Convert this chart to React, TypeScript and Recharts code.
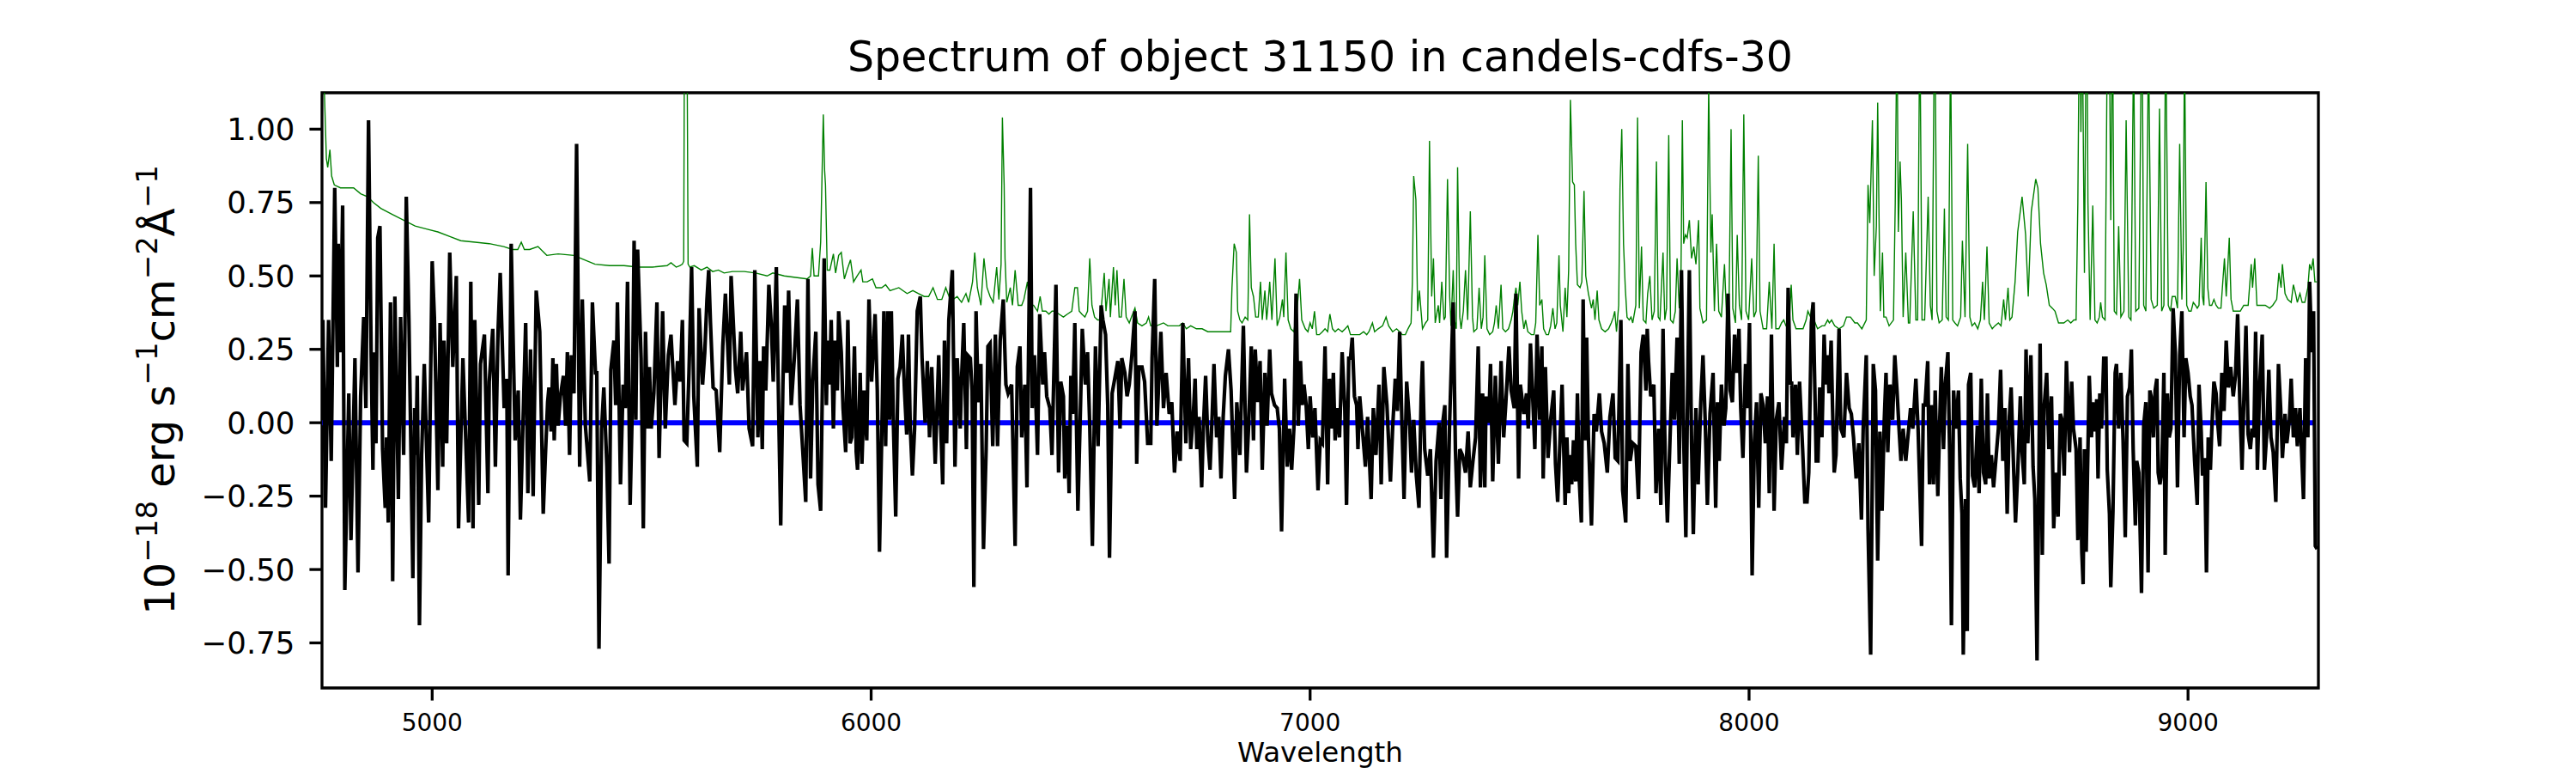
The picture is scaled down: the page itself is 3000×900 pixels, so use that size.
import React from 'react';
import { LineChart, Line, XAxis, YAxis, ReferenceArea } from 'recharts';

// wavelength (Angstrom) and flux of the object
const wavelength = [
  4751, 4757, 4764, 4770, 4778, 4784, 4786, 4791, 4796, 4801, 4810, 4815, 4824, 4831, 4837, 4844, 4849, 4855, 4861, 4865,
  4868, 4872, 4876, 4881, 4887, 4893, 4896, 4900, 4905, 4910, 4915, 4923, 4928, 4935, 4941, 4947, 4956, 4960, 4963, 4966,
  4971, 4976, 4982, 4992, 5000, 5005, 5013, 5018, 5024, 5027, 5033, 5040, 5047, 5055, 5060, 5070, 5083, 5088, 5093, 5097,
  5106, 5110, 5119, 5127, 5130, 5138, 5144, 5150, 5155, 5164, 5170, 5173, 5180, 5189, 5196, 5201, 5213, 5218, 5224, 5230,
  5237, 5245, 5253, 5258, 5263, 5266, 5271, 5275, 5278, 5283, 5287, 5292, 5299, 5304, 5308, 5313, 5317,
  5323, 5329, 5336, 5342, 5349, 5359, 5365, 5372, 5375, 5380, 5386, 5391, 5398, 5403, 5407, 5414, 5418, 5422, 5429, 5435,
  5440, 5445, 5451, 5456, 5460, 5464, 5468, 5476, 5481, 5486, 5491, 5495, 5499, 5505, 5512, 5517, 5525, 5531, 5538, 5544,
  5553, 5559, 5565, 5570, 5574, 5580, 5585, 5591, 5596, 5604, 5608, 5616, 5621, 5626, 5630, 5634, 5640, 5647, 5655, 5662,
  5668, 5677, 5681, 5691, 5696, 5703, 5707, 5716, 5722, 5730, 5735, 5742, 5747, 5752, 5755, 5760, 5767, 5773, 5777, 5784,
  5790, 5794, 5799, 5803, 5808, 5812, 5818, 5825, 5832, 5838, 5844, 5851, 5856, 5862, 5867,
  5874, 5879, 5885, 5893, 5898, 5901, 5905, 5909, 5914, 5918, 5923, 5926, 5932, 5936, 5942, 5947, 5952, 5956, 5962, 5966,
  5969, 5975, 5979, 5984, 5990, 5995, 6001, 6009, 6014, 6019, 6025, 6029, 6033, 6038, 6042, 6046, 6051, 6056, 6061, 6066,
  6071, 6076, 6081, 6085, 6089, 6094, 6099, 6105, 6112, 6116, 6123, 6128, 6133, 6138, 6141, 6146, 6154, 6157, 6163, 6167,
  6172, 6177, 6185, 6191, 6196, 6203, 6206, 6211, 6217, 6220, 6226, 6230, 6234, 6239, 6244, 6250, 6256, 6262, 6266, 6271,
  6277, 6283, 6288, 6294, 6301, 6307, 6312, 6320, 6328, 6333, 6339, 6343, 6350, 6355, 6363, 6367, 6372, 6379, 6384, 6391,
  6395, 6400, 6407, 6412, 6421, 6427, 6432, 6438, 6441, 6447,
  6451, 6455, 6459, 6464, 6471, 6477, 6481, 6488, 6493, 6498, 6504, 6511, 6517, 6524, 6528, 6534, 6539, 6543, 6549, 6555,
  6562, 6567, 6571, 6578, 6583, 6588, 6594, 6601, 6605, 6610, 6617, 6623, 6630, 6637, 6640, 6646, 6651, 6660, 6666, 6672,
  6679, 6685, 6691, 6697, 6704, 6710, 6717, 6723, 6728, 6734, 6738, 6742, 6747, 6753, 6757, 6762, 6767, 6772, 6777, 6781,
  6787, 6792, 6797, 6802, 6807, 6814, 6820, 6828, 6833, 6840, 6848, 6855, 6860, 6866, 6871, 6875, 6881, 6886, 6891, 6897,
  6902, 6908, 6912, 6919, 6925, 6930, 6935, 6942, 6948, 6953, 6958, 6963, 6968, 6973, 6978, 6982, 6986, 6991, 6996, 7000,
  7006, 7011,
  7018, 7023, 7028, 7034, 7040, 7044, 7049, 7053, 7057, 7062, 7067, 7073, 7079, 7083, 7088, 7092, 7096, 7101, 7106, 7109,
  7113, 7119, 7126, 7131, 7139, 7144, 7150, 7157, 7162, 7168, 7175, 7183, 7188, 7194, 7199, 7204, 7209, 7214, 7220, 7227,
  7231, 7236, 7242, 7248, 7253, 7256, 7261, 7268, 7274, 7281, 7287, 7294, 7298, 7303, 7307, 7311, 7318, 7326, 7331, 7336,
  7341, 7347, 7354, 7360, 7365, 7371, 7377, 7383, 7388, 7393, 7398, 7401, 7407, 7411, 7416, 7422, 7429, 7435, 7441, 7446,
  7453, 7458, 7465, 7469, 7475, 7479, 7487, 7493, 7497, 7502, 7507, 7512, 7517, 7523, 7528, 7531, 7536, 7542, 7548, 7555,
  7559, 7564, 7569, 7574,
  7581, 7585, 7589, 7592, 7596, 7600, 7605, 7609, 7613, 7618, 7622, 7626, 7630, 7634, 7641, 7647, 7652, 7659, 7664, 7670,
  7677, 7683, 7690, 7695, 7701, 7708, 7712, 7719, 7724, 7729, 7735, 7742, 7748, 7754, 7759, 7765, 7768, 7771, 7776, 7783,
  7788, 7794, 7799, 7804, 7809, 7814, 7820, 7825, 7830, 7836, 7841, 7846, 7851, 7856, 7860, 7864, 7869, 7873, 7879, 7884,
  7890, 7895, 7900, 7905, 7911, 7918, 7924, 7928, 7932, 7937, 7943, 7947, 7952, 7957, 7962, 7967, 7972, 7977, 7981, 7986,
  7992, 7996, 8001, 8007, 8012, 8017, 8022, 8027, 8032, 8037, 8042, 8046, 8051, 8057, 8062, 8068, 8074, 8081, 8085, 8089,
  8094, 8097, 8100, 8106, 8110, 8115, 8122, 8127, 8132, 8136, 8142, 8146,
  8153, 8157, 8161, 8166, 8171, 8175, 8179, 8182, 8187, 8190, 8194, 8198, 8205, 8209, 8216, 8222, 8228, 8233, 8238, 8244,
  8250, 8256, 8260, 8267, 8271, 8277, 8283, 8288, 8293, 8298, 8303, 8308, 8312, 8316, 8321, 8327, 8332, 8337, 8342, 8346,
  8351, 8357, 8363, 8368, 8373, 8380, 8385, 8393, 8397, 8401, 8407, 8411, 8415, 8420, 8424, 8430, 8434, 8438, 8443, 8447,
  8453, 8457, 8461, 8466, 8471, 8477, 8481, 8485, 8488, 8493, 8497, 8500, 8505, 8509, 8514, 8520, 8524, 8529, 8534, 8539,
  8543, 8547, 8552, 8557, 8562, 8568, 8573, 8578, 8583, 8588, 8593, 8597, 8603, 8607, 8612, 8618, 8622, 8627, 8631, 8635,
  8642, 8647, 8651, 8656, 8663, 8668, 8672, 8678, 8683, 8689, 8694, 8699, 8704, 8709, 8713, 8718, 8723,
  8730, 8735, 8739, 8745, 8749, 8754, 8758, 8761, 8764, 8768, 8771, 8775, 8780, 8783, 8787, 8792, 8795, 8799, 8803, 8808,
  8813, 8816, 8821, 8824, 8829, 8834, 8837, 8842, 8847, 8852, 8857, 8862, 8867, 8871, 8875, 8880, 8883, 8888, 8894, 8899,
  8904, 8909, 8913, 8916, 8921, 8925, 8929, 8932, 8936, 8940, 8945, 8948, 8953, 8957, 8961, 8966, 8971, 8976, 8981, 8986,
  8991, 8995, 9000, 9005, 9009, 9015, 9021, 9025, 9030, 9033, 9038, 9042, 9046, 9051, 9054, 9059, 9064, 9067, 9072, 9077,
  9082, 9087, 9092, 9097, 9103, 9108, 9113, 9118, 9123, 9127, 9132, 9137, 9142, 9146, 9150, 9154, 9158, 9163, 9169, 9174,
  9180, 9184, 9189, 9194, 9200, 9206, 9211, 9215, 9221, 9225, 9231, 9235, 9240, 9245, 9249, 9255, 9259, 9263, 9268, 9273,
  9277, 9282, 9286, 9290, 9294,
];

const flux = [
  0.35, -0.29, 0.35, -0.13, 0.8, 0.19, 0.61, 0.24, 0.74, -0.57, 0.1, -0.4, 0.22, -0.51, 0.09, 0.36, 0.05, 1.03, 0.23, -0.16,
  0.24, -0.07, 0.63, 0.67, -0.09, -0.29, -0.05, -0.34, 0.41, -0.54, 0.43, -0.26, 0.36, -0.11, 0.77, 0.35, -0.53, 0.05, -0.11, 0.16,
  -0.69, -0.11, 0.2, -0.34, 0.55, 0.36, -0.23, 0.34, -0.15, 0.28, -0.07, 0.58, 0.19, 0.5, -0.36, 0.22, -0.34, 0.48, -0.36, 0.35,
  -0.28, 0.2, 0.3, -0.24, 0.14, 0.32, -0.15, 0.31, 0.51, 0.05, 0.15, -0.52, 0.61, -0.06, 0.11, -0.33, 0.34, -0.24, 0.25, -0.25,
  0.45, 0.31, -0.31, -0.11, 0.07, 0.12, -0.03, 0.22, -0.06, 0.2, -0.01, 0.09, 0.16, -0.01, 0.24, -0.11, 0.23,
  0.1, 0.95, -0.15, 0.42, -0.01, -0.2, 0.41, 0.17, 0.17, -0.77, -0.02, 0.12, -0.15, -0.48, 0.18, 0.28, 0.06, 0.41, -0.21, 0.13,
  0.05, 0.48, -0.28, 0.06, 0.62, 0.01, 0.59, 0.22, -0.36, 0.31, -0.02, 0.19, -0.02, 0.1, 0.41, -0.12, 0.38, -0.02, 0.23, 0.3,
  0.06, 0.21, 0.14, 0.35, -0.06, -0.07, 0.17, 0.53, 0.09, -0.15, 0.39, 0.13, 0.24, 0.42, 0.52, 0.34, 0.12, 0.11, -0.1, 0.26,
  0.44, 0.13, 0.5, 0.18, 0.1, 0.31, 0.11, 0.24, -0.02, -0.08, 0.52, -0.05, 0.21, -0.09, 0.26, 0.11, 0.47, 0.32, 0.14, 0.53,
  -0.01, -0.35, 0.13, 0.4, 0.17, 0.45, 0.06, 0.22, 0.42, 0.06, -0.09, -0.27, 0.49, -0.19, 0.14,
  0.31, -0.21, -0.3, 0.56, 0.06, 0.28, 0.13, 0.35, -0.02, 0.28, 0.11, 0.38, 0.24, 0.05, -0.1, 0.35, -0.07, -0.05, 0.26, -0.1,
  -0.16, 0.17, -0.14, 0.11, -0.06, 0.42, 0.14, 0.37, 0.11, -0.44, 0.02, 0.38, -0.08, 0.38, 0.01, 0.38, -0.02, -0.32, 0.15, 0.19,
  0.3, 0.11, -0.04, 0.3, -0.01, -0.18, -0.02, 0.38, 0.43, 0.22, 0.0, 0.21, -0.05, 0.19, 0.06, -0.14, 0.23, 0.06, -0.21, 0.28,
  -0.07, 0.35, 0.52, -0.15, 0.22, -0.02, 0.15, 0.34, -0.09, 0.23, 0.22, 0.11, -0.56, 0.38, 0.07, 0.2, -0.43, -0.09, 0.26, 0.27,
  -0.08, 0.3, -0.08, 0.28, 0.42, 0.13, 0.1, 0.13, -0.42, 0.19, 0.26, -0.05, 0.13, -0.22, 0.8, 0.05, 0.23, -0.11, 0.37, 0.13,
  0.24, 0.09, 0.05, -0.11, 0.47, -0.17, 0.14, 0.09, -0.19, -0.01,
  -0.24, 0.16, 0.03, 0.34, -0.3, 0.06, 0.32, 0.13, 0.24, -0.01, -0.42, 0.26, -0.08, 0.4, 0.35, 0.3, 0.06, -0.46, 0.1, 0.15,
  0.21, -0.02, 0.22, 0.17, 0.09, 0.13, 0.23, 0.38, -0.14, 0.19, 0.19, 0.14, -0.07, -0.07, 0.22, 0.49, -0.01, 0.31, 0.05, 0.17,
  0.03, 0.07, -0.17, -0.03, -0.13, 0.34, -0.07, 0.22, -0.09, 0.03, 0.15, -0.09, 0.02, -0.22, -0.01, 0.16, -0.06, -0.16, 0.03, 0.2,
  -0.05, 0.02, -0.19, 0.02, 0.16, 0.25, 0.11, -0.26, 0.07, -0.11, 0.33, -0.17, -0.01, 0.26, -0.06, 0.25, 0.07, 0.21, -0.16, 0.17,
  -0.01, 0.25, 0.1, 0.06, 0.05, -0.02, -0.37, 0.15, -0.15, -0.02, -0.16, -0.02, 0.44, -0.01, 0.21, 0.06, 0.13, 0.06, -0.09, 0.09,
  -0.05, 0.05,
  -0.23, -0.06, -0.07, 0.26, -0.21, 0.15, -0.02, 0.17, -0.06, 0.05, -0.05, 0.24, 0.05, -0.28, 0.22, 0.22, 0.29, 0.09, 0.06, -0.09,
  0.09, -0.02, -0.15, 0.02, -0.26, 0.05, -0.11, 0.13, -0.21, 0.19, 0.06, -0.2, -0.02, 0.15, 0.04, 0.31, 0.01, -0.26, 0.14, -0.01,
  -0.17, 0.01, -0.18, -0.29, 0.09, 0.21, -0.09, -0.18, -0.09, -0.46, -0.13, 0.0, -0.26, 0.01, 0.06, -0.46, 0.01, 0.41, -0.09, -0.32,
  -0.09, -0.11, -0.17, -0.03, -0.22, -0.13, -0.05, 0.26, -0.22, 0.1, -0.22, 0.09, 0.0, 0.2, -0.2, 0.16, -0.14, 0.21, -0.05, 0.07,
  0.26, 0.11, 0.05, 0.44, -0.19, 0.13, 0.03, 0.1, -0.02, 0.27, 0.09, -0.09, 0.3, 0.01, 0.26, -0.19, 0.19, -0.12, 0.01, 0.11,
  -0.14, -0.27, -0.07, 0.13,
  -0.28, -0.05, -0.24, -0.11, -0.21, -0.06, -0.2, 0.1, -0.19, -0.34, 0.42, -0.06, 0.29, -0.05, -0.35, 0.03, -0.03, 0.1, -0.03, -0.07,
  -0.17, 0.02, 0.1, -0.12, -0.13, 0.35, -0.23, -0.34, 0.2, -0.13, -0.07, -0.08, -0.26, 0.24, 0.3, 0.11, 0.32, 0.21, 0.09, 0.13,
  -0.24, -0.02, -0.28, 0.32, -0.13, -0.34, -0.05, 0.17, 0.01, 0.29, -0.14, 0.52, -0.05, -0.39, 0.11, 0.52, -0.07, -0.38, 0.05, -0.21,
  0.07, 0.23, 0.01, -0.28, 0.03, 0.17, -0.29, 0.07, -0.13, 0.13, -0.01, 0.05, 0.44, 0.11, 0.07, 0.3, 0.17, 0.32, 0.05, -0.12,
  0.2, 0.05, 0.34, -0.52, -0.07, 0.07, -0.29, 0.1, 0.06, -0.07, 0.09, -0.24, 0.3, -0.3, 0.01, 0.07, -0.16, 0.02, -0.07, 0.46,
  0.13, 0.14, -0.05, 0.13, -0.11, 0.14, -0.09, -0.27, -0.27, -0.17, 0.34, 0.41,
  -0.13, -0.13, 0.12, -0.05, 0.3, 0.13, 0.23, 0.1, 0.28, 0.06, -0.17, -0.11, 0.32, -0.02, -0.05, 0.17, 0.05, 0.03, -0.05, -0.19,
  -0.07, -0.33, -0.02, 0.23, -0.36, -0.79, 0.2, 0.11, -0.47, -0.03, -0.3, 0.01, 0.17, -0.1, 0.13, 0.01, 0.23, 0.11, -0.03, -0.13,
  -0.02, -0.13, -0.03, 0.05, -0.02, 0.15, -0.02, -0.42, 0.06, 0.06, 0.21, -0.21, 0.06, -0.21, 0.11, -0.25, -0.01, 0.19, -0.09, 0.13,
  0.24, -0.11, -0.69, 0.11, -0.02, 0.11, -0.19, -0.31, -0.79, -0.26, -0.71, 0.13, 0.17, -0.18, -0.22, -0.01, -0.24, 0.15, -0.17, -0.21,
  0.1, -0.19, -0.11, -0.22, -0.13, -0.02, 0.18, -0.13, 0.05, -0.31, 0.02, 0.12, -0.17, -0.34, -0.17, 0.09, -0.1, -0.21, 0.25, -0.07,
  0.23, -0.15, -0.26, -0.81, 0.27, -0.45, 0.05, 0.17, -0.09, 0.09, -0.36, -0.17, -0.32, 0.03, 0.01, -0.18, 0.21,
  -0.1, 0.14, -0.02, -0.09, -0.4, -0.05, -0.44, -0.55, -0.09, -0.44, -0.17, 0.16, -0.05, 0.07, -0.03, 0.08, -0.19, 0.1, -0.02, 0.22,
  0.22, -0.16, -0.31, -0.56, -0.3, 0.17, 0.2, -0.02, 0.17, -0.06, -0.39, 0.09, 0.12, 0.25, -0.09, -0.35, -0.13, -0.17, -0.58, -0.01,
  0.07, -0.51, 0.11, 0.09, -0.05, 0.11, 0.15, -0.17, -0.21, -0.17, 0.17, -0.45, 0.1, -0.05, -0.02, 0.39, 0.24, -0.22, 0.23, 0.38,
  -0.05, 0.22, 0.17, 0.09, 0.06, -0.13, -0.28, 0.13, -0.03, -0.18, -0.12, -0.51, -0.05, -0.16, -0.03, 0.14, 0.1, 0.01, -0.08, 0.17,
  0.04, 0.28, 0.12, 0.19, 0.09, 0.16, 0.37, 0.07, -0.16, 0.07, 0.33, -0.04, -0.09, -0.02, -0.05, 0.31, -0.16, 0.12, 0.3, -0.16,
  -0.02, 0.18, -0.05, -0.1, -0.27, 0.2, 0.05, -0.12, 0.03, -0.07, 0.01, 0.15, -0.05, 0.05, -0.08, 0.05, -0.11, -0.26, 0.22, -0.05,
  0.48, 0.24, 0.38, -0.42, -0.43,
];

// green error / sky spectrum
const errWavelength = [
  4751, 4759, 4762, 4767, 4771, 4777, 4791, 4804, 4821, 4837, 4853, 4866, 4883, 4909, 4935, 4961, 4987, 5013, 5039, 5065,
  5098, 5130, 5163, 5183, 5195, 5203, 5210, 5222, 5241, 5261, 5287, 5323,
  5339, 5371, 5404, 5437, 5469, 5502, 5535, 5544, 5556, 5564, 5570, 5573, 5575, 5580, 5583, 5587, 5597, 5613, 5626, 5639,
  5652, 5665, 5684, 5711, 5737, 5763, 5776, 5802, 5828, 5854, 5862, 5866, 5870, 5880,
  5885, 5891, 5894, 5896, 5900, 5906, 5914, 5919, 5926, 5932, 5939, 5945, 5953, 5960, 5968, 5977, 5981, 5991, 6003, 6011,
  6024, 6033, 6043, 6063, 6082, 6095, 6108, 6121, 6131, 6141, 6151, 6161, 6170, 6180, 6187, 6196, 6206, 6216, 6222, 6231,
  6236, 6242, 6250, 6257, 6264, 6271, 6278, 6286, 6291, 6296, 6299, 6303, 6305, 6309, 6317, 6322, 6328, 6335, 6343, 6348,
  6356, 6363, 6370, 6379, 6385, 6390, 6398, 6405, 6412, 6418, 6428, 6438, 6447, 6457,
  6464, 6470, 6474, 6480, 6487, 6493, 6498, 6503, 6509, 6516, 6522, 6531, 6535, 6542, 6545, 6552, 6556, 6560, 6565, 6570,
  6576, 6581, 6588, 6593, 6601, 6607, 6617, 6627, 6632, 6637, 6650, 6666, 6676, 6689, 6702, 6710, 6718, 6728, 6741, 6754,
  6767, 6783, 6796, 6809, 6819, 6822, 6827, 6832, 6835, 6840, 6845, 6852, 6858, 6862, 6866, 6871, 6876, 6882, 6887, 6891,
  6897, 6901, 6904, 6908, 6913, 6920, 6925, 6931, 6937, 6940, 6945, 6950, 6956, 6963, 6970, 6976, 6981, 6989, 6995, 7000,
  7005, 7010, 7015, 7021, 7028,
  7034, 7040, 7045, 7051, 7057, 7064, 7073, 7080, 7086, 7092, 7100, 7113, 7122, 7129, 7134, 7142, 7147, 7155, 7165, 7173,
  7179, 7188, 7197, 7204, 7210, 7217, 7223, 7230, 7233, 7236, 7241, 7245, 7249, 7256, 7263, 7268, 7272, 7277, 7281, 7285,
  7292, 7295, 7300, 7305, 7308, 7313, 7318, 7321, 7326, 7329, 7333, 7336, 7341, 7344, 7349, 7354, 7359, 7365, 7370, 7373,
  7380, 7385, 7390, 7394, 7398, 7403, 7409, 7416, 7420, 7424, 7429, 7435, 7439, 7445, 7452, 7458, 7462, 7465, 7469, 7473,
  7478, 7482, 7487, 7491, 7496, 7504, 7510, 7514, 7519, 7523, 7528, 7532, 7538, 7543, 7548, 7553, 7558, 7562, 7567, 7570,
  7576, 7581, 7585, 7589, 7593, 7598, 7602,
  7605, 7609, 7615, 7619, 7624, 7628, 7634, 7641, 7645, 7649, 7654, 7658, 7664, 7672, 7680, 7686, 7691, 7694, 7698, 7703,
  7706, 7710, 7714, 7718, 7722, 7727, 7731, 7735, 7742, 7746, 7750, 7755, 7759, 7765, 7769, 7774, 7779, 7784, 7789, 7793,
  7797, 7804, 7808, 7812, 7817, 7821, 7827, 7832, 7836, 7841, 7845, 7848, 7851, 7855, 7859, 7864, 7869, 7874, 7879, 7885,
  7888, 7895, 7903, 7908, 7913, 7916, 7921, 7926, 7931, 7937, 7944, 7949, 7954, 7959, 7963, 7969, 7973, 7978, 7983, 7988,
  7993, 7999, 8006, 8011, 8016, 8021, 8025, 8032, 8040, 8046, 8052, 8057, 8061, 8068, 8074, 8079, 8084, 8091, 8096, 8100,
  8107, 8113, 8123, 8130, 8134, 8140, 8143, 8148,
  8156, 8166, 8172, 8179, 8183, 8188, 8195, 8205, 8215, 8222, 8231, 8241, 8247, 8257, 8267, 8271, 8275, 8281, 8285, 8290,
  8293, 8297, 8299, 8304, 8307, 8312, 8319, 8329, 8333, 8337, 8340, 8344, 8347, 8351, 8357, 8363, 8366, 8374, 8380, 8384,
  8389, 8394, 8400, 8408, 8413, 8417, 8423, 8428, 8433, 8440, 8445, 8449, 8454, 8459, 8464, 8469, 8475, 8482, 8486, 8492,
  8498, 8503, 8508, 8514, 8521, 8527, 8532, 8536, 8542, 8547, 8554, 8560, 8568, 8574, 8580, 8584, 8590, 8594, 8599, 8606,
  8612, 8622, 8630, 8636, 8643, 8653, 8658, 8664, 8671, 8677, 8684, 8691, 8697, 8705, 8717,
  8726, 8733, 8740, 8745, 8749, 8753, 8756, 8759, 8764, 8769, 8772, 8777, 8783, 8788, 8793, 8798, 8801, 8805, 8811, 8816,
  8821, 8824, 8828, 8832, 8837, 8842, 8847, 8854, 8859, 8865, 8870, 8876, 8881, 8888, 8895, 8899, 8904, 8910, 8916, 8922,
  8930, 8935, 8940, 8945, 8949, 8955, 8960, 8964, 8971, 8976, 8981, 8986, 8989, 8992, 8997, 9002, 9007, 9012, 9017, 9021,
  9025, 9030, 9033, 9036, 9041, 9045, 9049, 9054, 9059, 9064, 9069, 9075, 9083, 9087, 9094, 9098, 9103, 9111, 9119, 9127,
  9137, 9144, 9147, 9152, 9157, 9163, 9176, 9186, 9193, 9202, 9207, 9212, 9215, 9221, 9227, 9235, 9240, 9245, 9249, 9255,
  9260, 9266, 9273, 9277, 9281, 9285, 9289, 9294,
];

const errFlux = [
  1.3, 0.9, 0.87, 0.93, 0.84, 0.81, 0.8, 0.8, 0.8, 0.78, 0.77, 0.75, 0.73, 0.71, 0.69, 0.67, 0.66, 0.65, 0.635, 0.62,
  0.615, 0.61, 0.6, 0.59, 0.59, 0.615, 0.59, 0.59, 0.6, 0.57, 0.575, 0.57,
  0.56, 0.54, 0.535, 0.535, 0.53, 0.53, 0.535, 0.545, 0.53, 0.535, 0.54, 0.55, 1.5, 1.5, 0.54, 0.53, 0.535, 0.52, 0.53, 0.515,
  0.52, 0.51, 0.515, 0.515, 0.51, 0.5, 0.51, 0.5, 0.495, 0.49, 0.5, 0.595, 0.5, 0.5,
  0.615, 1.05, 0.86, 0.81, 0.52, 0.52, 0.575, 0.51, 0.57, 0.58, 0.49, 0.52, 0.555, 0.48, 0.5, 0.52, 0.48, 0.48, 0.49, 0.46,
  0.46, 0.47, 0.45, 0.46, 0.44, 0.45, 0.44, 0.43, 0.43, 0.46, 0.42, 0.42, 0.46, 0.42, 0.42, 0.43, 0.41, 0.44, 0.41, 0.48,
  0.58, 0.46, 0.4, 0.56, 0.46, 0.43, 0.41, 0.53, 0.42, 0.54, 1.04, 0.81, 0.56, 0.41, 0.46, 0.4, 0.52, 0.4, 0.4, 0.42,
  0.48, 0.4, 0.4, 0.38, 0.43, 0.38, 0.38, 0.37, 0.38, 0.38, 0.37, 0.36, 0.37, 0.38,
  0.46, 0.46, 0.38, 0.37, 0.36, 0.38, 0.56, 0.4, 0.36, 0.35, 0.35, 0.51, 0.38, 0.49, 0.36, 0.53, 0.4, 0.52, 0.36, 0.36,
  0.49, 0.36, 0.34, 0.36, 0.39, 0.34, 0.33, 0.34, 0.36, 0.33, 0.33, 0.34, 0.33, 0.33, 0.33, 0.34, 0.32, 0.33, 0.32, 0.32,
  0.31, 0.31, 0.31, 0.31, 0.31, 0.46, 0.61, 0.58, 0.38, 0.35, 0.34, 0.36, 0.35, 0.71, 0.46, 0.43, 0.36, 0.36, 0.48, 0.35,
  0.45, 0.35, 0.4, 0.48, 0.35, 0.56, 0.33, 0.36, 0.42, 0.36, 0.58, 0.35, 0.32, 0.31, 0.38, 0.49, 0.35, 0.32, 0.31, 0.34,
  0.32, 0.38, 0.3, 0.3, 0.31,
  0.32, 0.31, 0.37, 0.32, 0.31, 0.32, 0.31, 0.32, 0.33, 0.3, 0.3, 0.3, 0.31, 0.3, 0.31, 0.34, 0.31, 0.32, 0.33, 0.36,
  0.33, 0.31, 0.32, 0.31, 0.3, 0.3, 0.32, 0.34, 0.48, 0.84, 0.76, 0.38, 0.45, 0.32, 0.34, 0.35, 0.96, 0.43, 0.56, 0.34,
  0.4, 0.34, 0.48, 0.35, 0.36, 0.83, 0.43, 0.33, 0.52, 0.35, 0.32, 0.87, 0.36, 0.32, 0.38, 0.52, 0.35, 0.72, 0.36, 0.31,
  0.32, 0.46, 0.32, 0.36, 0.57, 0.32, 0.3, 0.31, 0.34, 0.4, 0.32, 0.47, 0.32, 0.31, 0.32, 0.35, 0.38, 0.42, 0.46, 0.4,
  0.48, 0.38, 0.32, 0.35, 0.31, 0.3, 0.3, 0.34, 0.64, 0.4, 0.42, 0.32, 0.3, 0.3, 0.33, 0.39, 0.32, 0.34, 0.57, 0.4,
  0.31, 0.46, 0.36, 0.52, 1.1, 0.82, 0.81,
  0.61, 0.47, 0.46, 0.48, 0.79, 0.5, 0.44, 0.39, 0.42, 0.35, 0.45, 0.35, 0.32, 0.31, 0.32, 0.34, 0.36, 0.38, 0.31, 0.4,
  0.8, 1.0, 0.61, 0.46, 0.36, 0.35, 0.36, 0.34, 0.4, 1.04, 0.39, 0.6, 0.35, 0.34, 0.44, 0.5, 0.35, 0.38, 0.89, 0.36,
  0.35, 0.58, 0.35, 0.39, 0.98, 0.35, 0.34, 0.38, 0.56, 0.39, 0.52, 1.03, 0.61, 0.64, 0.63, 0.69, 0.56, 0.6, 0.54, 0.69,
  0.39, 0.34, 0.35, 1.15, 0.58, 0.71, 0.38, 0.61, 0.38, 0.36, 0.54, 0.35, 0.36, 1.0, 0.39, 0.34, 0.64, 0.4, 0.35, 1.05,
  0.38, 0.35, 0.56, 0.36, 0.38, 0.91, 0.38, 0.32, 0.32, 0.48, 0.32, 0.61, 0.32, 0.32, 0.34, 0.35, 0.33, 0.32, 0.47, 0.35,
  0.32, 0.32, 0.32, 0.35, 0.38, 0.36, 0.4, 0.35,
  0.32, 0.33, 0.33, 0.35, 0.34, 0.35, 0.33, 0.32, 0.33, 0.36, 0.36, 0.34, 0.34, 0.32, 0.35, 0.81, 0.68, 1.03, 0.5, 0.67,
  1.09, 0.59, 0.38, 0.58, 0.36, 0.36, 0.33, 0.35, 0.75, 1.4, 0.65, 0.89, 0.76, 0.36, 0.58, 0.34, 0.34, 0.72, 0.35, 0.35,
  1.4, 0.35, 0.35, 0.77, 0.4, 0.35, 1.5, 0.38, 0.34, 0.35, 0.73, 0.36, 0.35, 1.3, 0.35, 0.34, 0.33, 0.36, 0.62, 0.36,
  0.95, 0.36, 0.33, 0.34, 0.32, 0.35, 0.48, 0.35, 0.6, 0.34, 0.32, 0.33, 0.34, 0.33, 0.42, 0.35, 0.46, 0.35, 0.36, 0.48,
  0.65, 0.77, 0.64, 0.43, 0.72, 0.83, 0.8, 0.61, 0.51, 0.47, 0.4, 0.39, 0.38, 0.34, 0.34,
  0.35, 0.34, 0.35, 0.35, 0.75, 1.5, 0.99, 1.4, 0.51, 1.6, 0.75, 0.35, 0.74, 0.35, 0.34, 0.36, 0.41, 0.36, 0.35, 1.3,
  1.3, 0.69, 1.4, 0.38, 0.37, 0.67, 0.36, 0.38, 1.03, 0.36, 0.35, 1.3, 0.38, 0.39, 1.5, 0.4, 0.38, 1.3, 0.42, 0.39,
  0.4, 1.07, 0.38, 0.4, 1.4, 0.4, 0.38, 0.43, 0.43, 0.39, 0.95, 0.42, 0.59, 1.3, 0.4, 0.38, 0.38, 0.41, 0.4, 0.39,
  0.4, 0.63, 0.43, 0.4, 0.82, 0.46, 0.4, 0.4, 0.42, 0.4, 0.39, 0.39, 0.56, 0.43, 0.63, 0.42, 0.38, 0.38, 0.38, 0.4,
  0.4, 0.54, 0.46, 0.56, 0.4, 0.4, 0.4, 0.39, 0.4, 0.42, 0.51, 0.46, 0.54, 0.44, 0.42, 0.41, 0.47, 0.44, 0.41, 0.44,
  0.41, 0.41, 0.46, 0.54, 0.52, 0.56, 0.48, 0.48,
];

const zeroWavelength = [4749, 9286];
const zeroFlux = [0, 0];

const xTicks = [5000, 6000, 7000, 8000, 9000];
const yTicks = [-0.75, -0.5, -0.25, 0, 0.25, 0.5, 0.75, 1.0];
const xDomain = [4749, 9297];
const yDomain = [-0.9035, 1.124];

const spectrum = wavelength.map((w, i) => ({ w, f: flux[i] }));
const errSpectrum = errWavelength.map((w, i) => ({ w, f: errFlux[i] }));
const zeroLine = zeroWavelength.map((w, i) => ({ w, f: zeroFlux[i] }));

const FONT = 'DejaVu Sans';

const fmtY = (v: number) => (v < 0 ? '\u2212' : '') + Math.abs(v).toFixed(2);

export default function App() {
  return (
    <div style={{ position: 'absolute', left: 0, top: 0, width: 3000, height: 900, background: '#fff' }}>
      <LineChart width={3000} height={900} margin={{ top: 108, right: 300, left: 275, bottom: 39 }}>
        <XAxis
          type="number"
          dataKey="w"
          domain={xDomain}
          allowDataOverflow
          ticks={xTicks}
          height={60}
          tickSize={14.6}
          tickMargin={16}
          axisLine={false}
          tickLine={{ stroke: '#000', strokeWidth: 3.3 }}
          tick={{ fill: '#000', fontSize: 28, fontFamily: FONT }}
        />
        <YAxis
          type="number"
          dataKey="f"
          domain={yDomain}
          allowDataOverflow
          ticks={yTicks}
          width={100}
          tickSize={14.6}
          tickMargin={17}
          axisLine={false}
          tickLine={{ stroke: '#000', strokeWidth: 3.3 }}
          tick={{ fill: '#000', fontSize: 35.5, fontFamily: FONT }}
          tickFormatter={fmtY}
        />
        <Line data={errSpectrum} dataKey="f" type="linear" stroke="#008000" strokeWidth={1.4} dot={false} isAnimationActive={false} />
        <Line data={zeroLine} dataKey="f" type="linear" stroke="#0000ff" strokeWidth={6} dot={false} isAnimationActive={false} />
        <Line data={spectrum} dataKey="f" type="linear" stroke="#000" strokeWidth={4.2} dot={false} isAnimationActive={false} />
        <ReferenceArea
          x1={xDomain[0]}
          x2={xDomain[1]}
          y1={yDomain[0]}
          y2={yDomain[1]}
          fill="none"
          stroke="#000"
          strokeWidth={3.3}
          ifOverflow="visible"
        />
        <text x={1537.5} y={83} textAnchor="middle" fontSize={49} fontFamily={FONT} fill="#000">
          Spectrum of object 31150 in candels-cdfs-30
        </text>
        <text x={1537.5} y={887} textAnchor="middle" fontSize={32.5} fontFamily={FONT} fill="#000">
          Wavelength
        </text>
        <text transform="rotate(-90)" x={-454} y={203} textAnchor="middle" fontSize={48} fontFamily={FONT} fill="#000">
          10<tspan dy={-20} fontSize={34}>{'\u221218'}</tspan>
          <tspan dy={20}> erg s</tspan>
          <tspan dy={-20} fontSize={34}>{'\u22121'}</tspan>
          <tspan dy={20}>cm</tspan>
          <tspan dy={-20} fontSize={34}>{'\u22122'}</tspan>
          <tspan dy={20}>{'\u00c5'}</tspan>
          <tspan dy={-20} fontSize={34}>{'\u22121'}</tspan>
        </text>
      </LineChart>
    </div>
  );
}
